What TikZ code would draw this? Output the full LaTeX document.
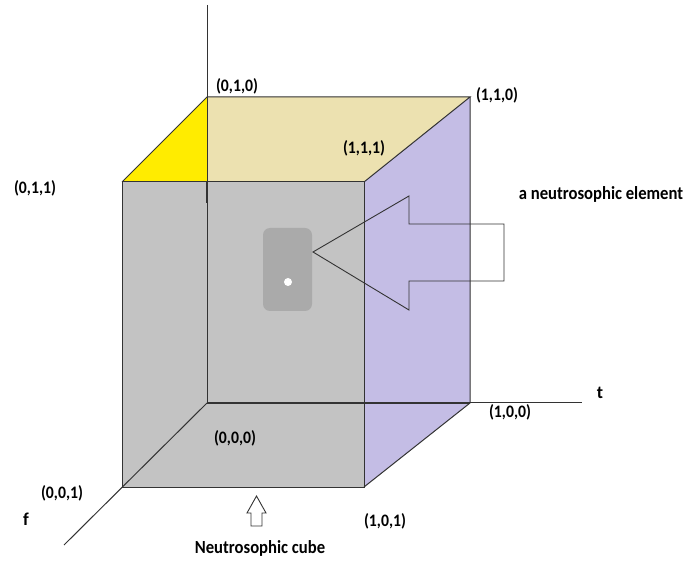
\documentclass[tikz,border=0pt]{standalone}
\usepackage{graphicx}
\usepackage{fontspec}
\setmainfont{Carlito}
\newcommand{\narrowtext}[1]{\scalebox{0.9}[1]{#1}}
\begin{document}
\begin{tikzpicture}[x=1pt,y=-1pt,
  edge/.style={draw=black!80,line width=1pt},
  lbl/.style={font=\fontsize{17.5}{20}\selectfont\bfseries,inner sep=0pt,anchor=center},
  biglbl/.style={font=\fontsize{18.5}{21}\selectfont\bfseries,inner sep=0pt,anchor=center},
  axislbl/.style={font=\fontsize{18}{21}\selectfont\bfseries,inner sep=0pt,anchor=center}]
\definecolor{facegray}{RGB}{195,195,195}
\definecolor{topbeige}{RGB}{236,225,176}
\definecolor{topyellow}{RGB}{255,236,0}
\definecolor{sidelav}{RGB}{196,189,229}
\definecolor{elemgray}{RGB}{170,170,170}
\useasboundingbox (0,0) rectangle (686,561);
% cube vertices
\coordinate (O) at (207,403);   % (0,0,0)
\coordinate (T) at (470,403);   % (1,0,0)
\coordinate (U) at (207,97);    % (0,1,0)
\coordinate (UT) at (470,97);   % (1,1,0)
\coordinate (F) at (122,487);   % (0,0,1)
\coordinate (FT) at (364,487);  % (1,0,1)
\coordinate (FU) at (122,182);  % (0,1,1)
\coordinate (FUT) at (364,182); % (1,1,1)
\coordinate (Ftop) at (207,182);
\coordinate (axtop) at (207,5);
\coordinate (axmid) at (207,203);
\coordinate (fend) at (64,545);
\coordinate (tend) at (582,403);
% faces
\fill[facegray] (FU) rectangle (FT);
\fill[topbeige] (U) -- (UT) -- (FUT) -- (FU) -- cycle;
\fill[topyellow] (U) -- (FU) -- (Ftop) -- cycle;
\fill[sidelav] (UT) -- (T) -- (FT) -- (FUT) -- cycle;
% edges and axes
\draw[edge] (FU) rectangle (FT);
\draw[edge] (FU) -- (U) -- (UT) -- (FUT);
\draw[edge] (UT) -- (T) -- (FT);
\draw[edge] (axtop) -- (O);
\draw[edge,line width=1.6pt] (Ftop) -- (axmid);
\draw[edge,line width=2pt] (O) -- (T);
\draw[edge] (T) -- (tend);
\draw[edge] (O) -- (fend);
% the element inside the cube
\fill[elemgray,rounded corners=7pt] (263,228) rectangle (312,311);
\fill[white] (288,282) circle (4);
% big outlined arrow pointing at the element
\draw[edge,line width=0.9pt] (313,252) -- (409,196) -- (409,224) -- (504,224)
  -- (504,281) -- (409,281) -- (409,310) -- cycle;
% small arrow below the cube
\draw[edge,line width=0.9pt] (256.5,496) -- (266,513) -- (262,513) -- (262,526)
  -- (251,526) -- (251,513) -- (247,513) -- cycle;
% labels
\node[lbl] (l010) at (237,86) {\narrowtext{(0,1,0)}};
\node[lbl] (l110) at (497,95) {\narrowtext{(1,1,0)}};
\node[lbl] (l111) at (364,148) {\narrowtext{(1,1,1)}};
\node[lbl] (l011) at (35,188) {\narrowtext{(0,1,1)}};
\node[lbl] (l000) at (235,438) {\narrowtext{(0,0,0)}};
\node[lbl] (l100) at (510,412) {\narrowtext{(1,0,0)}};
\node[lbl] (l101) at (385,521) {\narrowtext{(1,0,1)}};
\node[lbl] (l001) at (62,493) {\narrowtext{(0,0,1)}};
\node[axislbl] (tl) at (600,393) {t};
\node[axislbl] (fl) at (26,519) {f};
\node[biglbl] (elem) at (601,194) {\narrowtext{a neutrosophic element}};
\node[biglbl] (cube) at (260,548) {\narrowtext{Neutrosophic cube}};
\end{tikzpicture}
\end{document}
